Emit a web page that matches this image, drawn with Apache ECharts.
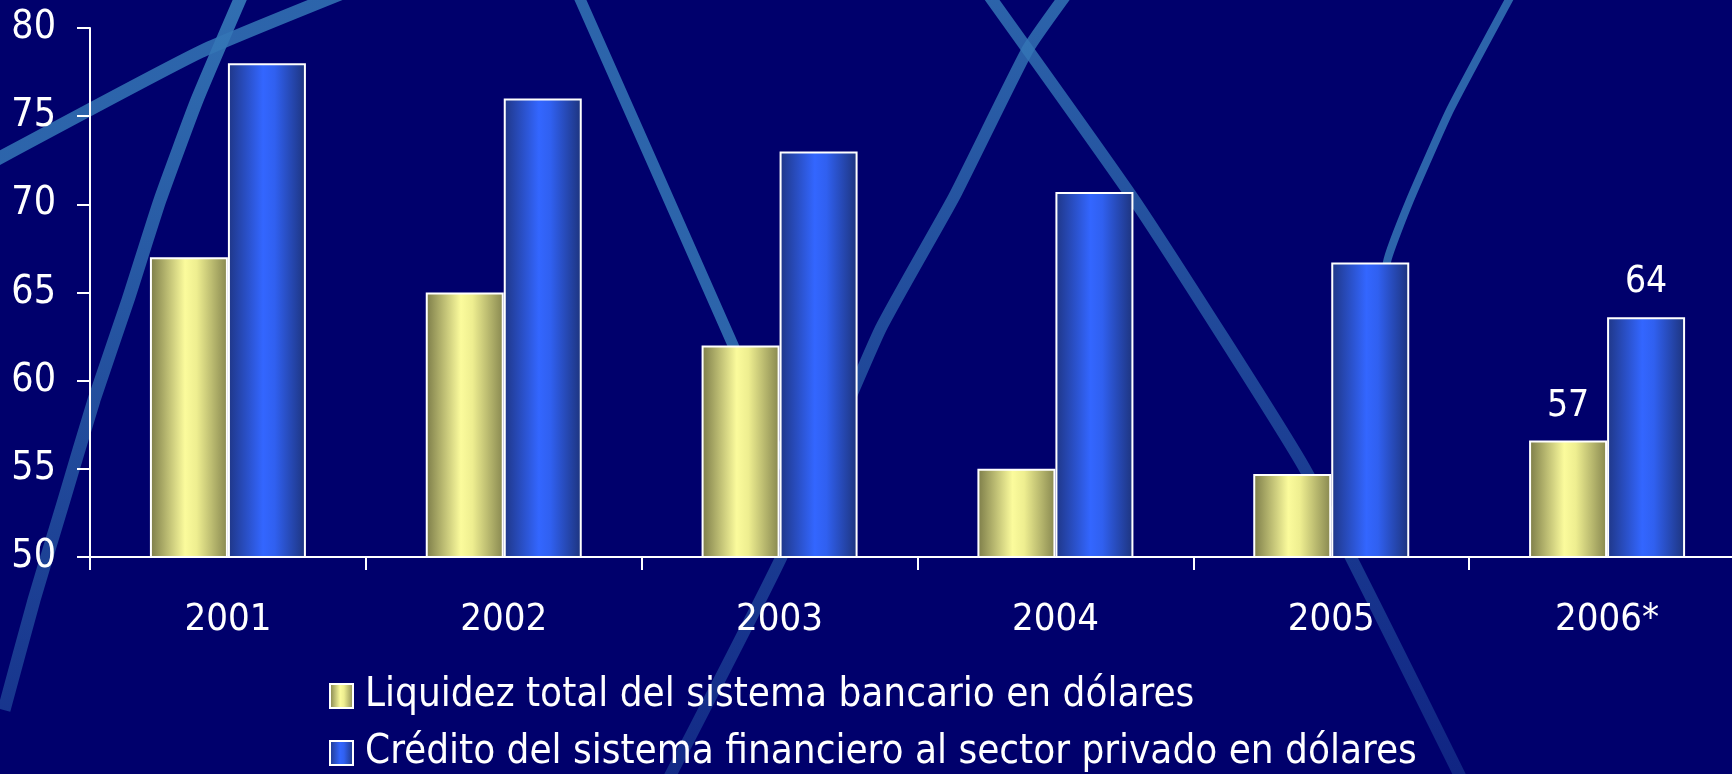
<!DOCTYPE html>
<html>
<head>
<meta charset="utf-8">
<title>Liquidez y crédito en dólares</title>
<script src="https://cdn.jsdelivr.net/npm/echarts@6/dist/echarts.min.js"></script>
<style>
  html, body { margin: 0; padding: 0; background: #00006c; }
  #chart { width: 1732px; height: 774px; }
</style>
</head>
<body>
<div id="chart"></div>
<script>
// Años y series (porcentajes en dólares)
const categories = ['2001', '2002', '2003', '2004', '2005', '2006*'];
const liquidez = [67, 65, 62, 55, 54.7, 56.6];
const credito = [78, 76, 73, 70.7, 66.7, 63.6];
const seriesNames = [
  'Liquidez total del sistema bancario en dólares',
  'Crédito del sistema financiero al sector privado en dólares'
];
const yTicks = { min: 50, max: 80, interval: 5 };
const labelledIndex = 5; // only the last year carries value labels

const FONT = "'DejaVu Sans Condensed', 'Liberation Sans', sans-serif";

const yellowFill = {
  type: 'linear', x: 0, y: 0, x2: 1, y2: 0,
  colorStops: [
    { offset: 0, color: '#7b7b48' },
    { offset: 0.45, color: '#fbfb9c' },
    { offset: 0.6, color: '#eeee90' },
    { offset: 1, color: '#86864f' }
  ]
};
const blueFill = {
  type: 'linear', x: 0, y: 0, x2: 1, y2: 0,
  colorStops: [
    { offset: 0, color: '#1f3686' },
    { offset: 0.45, color: '#3366ff' },
    { offset: 0.6, color: '#3060f0' },
    { offset: 1, color: '#1d337c' }
  ]
};

function withLabels(values) {
  return values.map((v, i) => i === labelledIndex
    ? { value: v, label: { show: true } }
    : v);
}

// Decorative sweeping strokes in the backdrop
function stroke(points, width, topAlpha, bottomAlpha) {
  return {
    type: 'polyline',
    silent: true,
    z: -10,
    shape: { points: points, smooth: 0.15 },
    style: {
      fill: null,
      lineWidth: width,
      lineCap: 'butt',
      stroke: {
        type: 'linear', x: 0, y: 0, x2: 0, y2: 1,
        colorStops: [
          { offset: 0, color: 'rgba(52,118,182,' + topAlpha + ')' },
          { offset: 1, color: 'rgba(52,118,182,' + bottomAlpha + ')' }
        ]
      }
    }
  };
}

const chart = echarts.init(document.getElementById('chart'), null, { renderer: 'canvas' });

chart.setOption({
  backgroundColor: '#00006c',
  animation: false,
  textStyle: { fontFamily: FONT, color: '#ffffff' },
  graphic: [
    stroke([[244, -10], [197, 100], [160, 200], [128, 300], [94, 400], [64, 500], [34, 600], [4, 710]], 13, 0.95, 0.45),
    stroke([[-10, 163], [200, 52], [345, -8]], 13, 0.85, 0.85),
    stroke([[576, -10], [733, 345], [815, 540]], 11, 0.85, 0.85),
    stroke([[1068, -8], [1028, 49], [954, 197], [880, 330], [781, 558], [668, 780]], 12, 0.85, 0.35),
    stroke([[985, -10], [1139, 207], [1305, 469], [1462, 780]], 12, 0.85, 0.3),
    stroke([[1512, -6], [1450, 110], [1410, 200], [1387, 262], [1345, 540]], 8, 0.85, 0.85)
  ],
  grid: {
    left: 90,
    right: -13,
    top: 28,
    bottom: 217,
    outerBoundsMode: 'none',
    containLabel: false
  },
  legend: {
    orient: 'vertical',
    left: 329,
    top: 676,
    padding: 0,
    itemGap: 17,
    itemWidth: 23,
    itemHeight: 24,
    icon: 'rect',
    selectedMode: false,
    data: seriesNames,
    textStyle: {
      color: '#ffffff',
      fontSize: 40,
      fontFamily: FONT,
      padding: [0, 0, 0, 7]
    }
  },
  xAxis: {
    type: 'category',
    data: categories,
    axisLine: { lineStyle: { color: '#ffffff', width: 2 } },
    axisTick: { show: true, length: 13, lineStyle: { color: '#ffffff', width: 2 } },
    axisLabel: { color: '#ffffff', fontSize: 38, fontFamily: FONT, margin: 44 },
    splitLine: { show: false }
  },
  yAxis: {
    type: 'value',
    min: yTicks.min,
    max: yTicks.max,
    interval: yTicks.interval,
    axisLine: { show: true, lineStyle: { color: '#ffffff', width: 2 } },
    axisTick: { show: true, length: 13, lineStyle: { color: '#ffffff', width: 2 } },
    axisLabel: { color: '#ffffff', fontSize: 39, fontFamily: FONT, margin: 34 },
    splitLine: { show: false }
  },
  series: [
    {
      name: seriesNames[0],
      type: 'bar',
      data: withLabels(liquidez),
      barWidth: 78,
      barGap: '0%',
      itemStyle: { color: yellowFill, borderColor: '#ffffff', borderWidth: 2 },
      label: {
        show: false,
        position: 'top',
        distance: 16,
        color: '#ffffff',
        fontSize: 37,
        fontFamily: FONT,
        formatter: p => Math.round(p.value).toString()
      }
    },
    {
      name: seriesNames[1],
      type: 'bar',
      data: withLabels(credito),
      barWidth: 78,
      barGap: '0%',
      itemStyle: { color: blueFill, borderColor: '#ffffff', borderWidth: 2 },
      label: {
        show: false,
        position: 'top',
        distance: 16,
        color: '#ffffff',
        fontSize: 37,
        fontFamily: FONT,
        formatter: p => Math.round(p.value).toString()
      }
    }
  ]
});
</script>
</body>
</html>
